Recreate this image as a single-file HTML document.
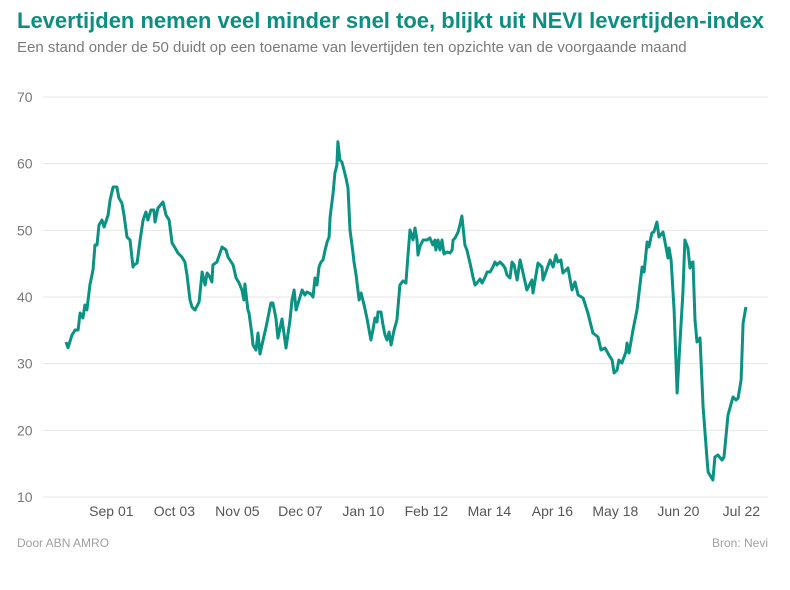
<!DOCTYPE html>
<html><head><meta charset="utf-8"><style>
body{margin:0;background:#fff;width:790px;height:585px;overflow:hidden;font-family:"Liberation Sans",Arial,sans-serif}
</style></head><body>
<svg width="790" height="585" xmlns="http://www.w3.org/2000/svg" font-family="Liberation Sans, Arial, sans-serif">
<text x="17" y="28" font-size="22" font-weight="bold" fill="#0c8f80">Levertijden nemen veel minder snel toe, blijkt uit NEVI levertijden-index</text>
<text x="17" y="52" font-size="15" fill="#7a7a7a">Een stand onder de 50 duidt op een toename van levertijden ten opzichte van de voorgaande maand</text>
<g id="grid"></g><g id="xt"></g>
<path id="line" fill="none" stroke="#0a9282" stroke-width="3" stroke-linejoin="round"/>
<text x="17" y="547" font-size="12" fill="#a0a0a0">Door ABN AMRO</text>
<text x="768" y="547" font-size="12" fill="#a0a0a0" text-anchor="end">Bron: Nevi</text>
</svg>
<script>
const yTicks=[10,20,30,40,50,60,70];
const xTickLabels=["Sep 01","Oct 03","Nov 05","Dec 07","Jan 10","Feb 12","Mar 14","Apr 16","May 18","Jun 20","Jul 22"];
const xTickMonths=[18,43,68,93,118,143,168,193,218,243,268];
const months=[0,0.8,2.4,3.6,4.8,5.6,6.7,7.5,8.3,9.5,10.7,11.5,12.3,13.1,14.3,15.1,16.7,17.5,18.7,20.2,21,22.2,23,24.2,25.4,26.6,27,28.2,29.4,30.6,31.7,32.5,33.7,34.9,35.3,36.5,38.5,39.7,40.9,42.1,43.3,44.4,46,47.2,48,49.2,50,51.2,52.8,54,55.2,56,57.1,57.9,58.3,59.9,61.1,61.9,63.5,64.3,66.3,67.5,68.7,69.8,70.6,71,72.2,72.6,73.8,74.2,75.4,76.2,77,78.2,79.4,81.3,82.1,83.3,84.1,85.7,87.3,88.9,89.7,90.5,91.3,92.5,93.7,94.8,95.6,97.2,98,98.8,99.6,100.4,101.2,102,102.8,103.6,104.4,104.8,106,106.7,107.5,107.9,108.7,109.5,110.3,111.1,111.9,112.7,113.9,114.3,115.1,116.3,117.1,118.3,119.4,121,121.8,122.6,123.4,123.8,125,125.8,126.6,127.4,128.2,129,130.2,131.3,132.5,133.7,134.9,135.7,136.5,137.7,138.5,139.3,139.7,140.5,141.7,143.3,144.4,145.6,146.4,146.8,147.6,148.4,149.2,150,151.2,152.4,153.2,153.6,154.4,155.6,156.3,157.1,158.3,159.1,160.3,161.5,162.3,163.1,164.3,165.1,166.3,167.1,168.3,169.4,170.2,171,172.2,173.4,174.2,175,176.2,177,177.8,179,180.2,182.9,184.9,185.3,187.3,188.9,189.3,192.1,193.3,194.4,195.2,196.4,197.2,199.2,200.8,202,203.2,205.2,207.1,209.1,211.1,212.3,213.9,215.9,216.7,217.5,218.7,219.4,220.6,222.2,222.6,223.4,225,226.6,228.6,229.4,230.6,231.3,232.5,233.3,234.5,235.3,236.9,237.7,238.9,239.3,240.1,241.3,242.5,243.7,244.8,245.6,246.8,247.6,248,248.8,249.6,250.4,251.6,252.8,254.4,254.8,256.7,257.5,258.7,260.3,261.1,262.7,264.7,265.9,266.7,267.9,268.7,269.8];
const values=[33.25,32.4,34.3,35.05,35.05,37.6,36.85,38.8,38.05,41.8,44.05,47.8,47.8,50.8,51.55,50.5,52.3,54.55,56.5,56.5,54.85,54.1,52.3,49,48.55,44.5,44.8,45.1,48.55,51.55,52.75,51.55,53.05,53.05,51.25,53.35,54.25,52.3,51.55,48.1,47.35,46.6,46,45.25,43.3,39.55,38.5,38.05,39.25,43.75,41.8,43.6,43,42.25,44.8,45.25,46.6,47.5,47.05,46,44.8,42.85,42.1,41.05,39.55,41.95,38.05,37.6,34.3,32.8,32.05,34.6,31.45,33.55,35.5,39.1,39.1,36.85,33.85,36.7,32.35,36.55,39.55,41.05,38.05,39.55,41.05,40.3,40.75,40.45,40,42.85,41.8,44.5,45.25,45.55,47.05,48.25,49,52,55.6,58.6,59.8,63.3,60.55,60.25,59.05,57.85,56.35,50.05,46.6,45.25,43.3,39.55,40.6,38.8,36.85,33.55,35.05,36.85,36.25,37.75,37.75,35.8,34.3,33.55,34.75,32.8,35.05,36.55,41.8,42.4,42.1,46.3,50.05,48.55,50.35,48.55,46.3,47.65,48.55,48.55,48.85,47.8,48.55,47.05,48.55,47.05,48.55,46.45,46.75,46.6,47.05,48.55,48.85,49.75,50.8,52.15,47.8,47.05,45.1,43,41.8,42.1,42.7,42.1,43,43.75,43.75,44.5,45.25,44.8,45.25,44.8,44.35,43.3,42.85,45.25,44.8,42.55,45.55,41.05,42.55,40.6,45.1,44.5,42.55,45.55,44.5,46.3,45.25,45.55,43.6,44.35,41.05,42.25,40.3,39.85,37.6,34.6,34,32.05,32.35,31,30.55,28.6,29.05,30.55,30.1,31.75,33.1,31.6,35.05,38.05,44.5,43.75,48.25,47.5,49.6,49.75,51.25,49,49.75,48.25,45.85,47.35,45.55,38.05,25.6,33.55,40.6,48.55,47.35,44.35,45.1,45.25,36.55,33.25,33.85,23.5,15.55,13.75,12.55,16,16.3,15.55,16,22.3,25,24.55,24.85,27.55,36.1,38.5];
const X=m=>66+m*2.52;
const Y=v=>497-(v-10)*400/60;
const ns="http://www.w3.org/2000/svg";
const grid=document.getElementById('grid');
yTicks.forEach(t=>{
  const l=document.createElementNS(ns,'line');
  l.setAttribute('x1',43);l.setAttribute('x2',768);l.setAttribute('y1',Y(t));l.setAttribute('y2',Y(t));
  l.setAttribute('stroke','#e6e6e6');l.setAttribute('stroke-width','1');
  
  
  grid.appendChild(l);
  const tx=document.createElementNS(ns,'text');
  tx.setAttribute('x',17);tx.setAttribute('y',Y(t)+5);tx.setAttribute('font-size','14');tx.setAttribute('fill','#777');
  tx.textContent=t;
  
  
  grid.appendChild(tx);
});
const xt=document.getElementById('xt');
xTickLabels.forEach((s,i)=>{
  const tx=document.createElementNS(ns,'text');
  tx.setAttribute('x',X(xTickMonths[i]));tx.setAttribute('y',516);tx.setAttribute('font-size','14');tx.setAttribute('fill','#555');tx.setAttribute('text-anchor','middle');
  tx.textContent=s;
  
  
  xt.appendChild(tx);
});
document.getElementById('line').setAttribute('d',months.map((m,i)=>(i?'L':'M')+X(m).toFixed(1)+' '+Y(values[i]).toFixed(1)).join(' '));
</script>
</body></html>
